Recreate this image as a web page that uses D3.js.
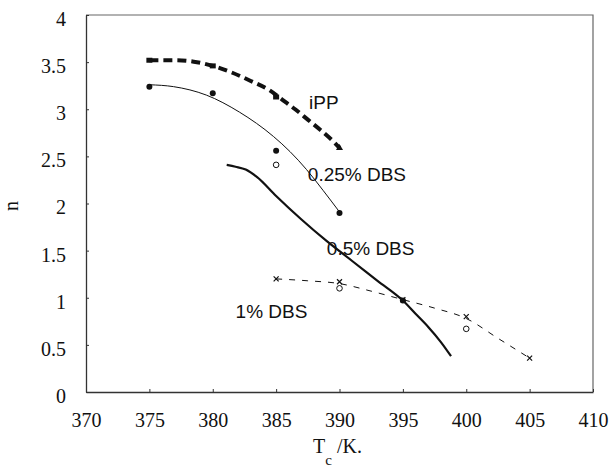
<!DOCTYPE html>
<html>
<head>
<meta charset="utf-8">
<script src="https://cdn.jsdelivr.net/npm/d3@7"></script>
<style>
  html, body { margin: 0; padding: 0; background: #fff; }
  svg { display: block; }
  .tick text, .serif { font-family: 'Liberation Serif', 'Times New Roman', serif !important; }
</style>
</head>
<body>
<svg id="chart" width="611" height="471"></svg>
<script>
// ---- data ----
const xTicks = [370, 375, 380, 385, 390, 395, 400, 405, 410];
const yTicks = [0, 0.5, 1, 1.5, 2, 2.5, 3, 3.5, 4];

// fitted curves [T, n]
const iPPCurve = [[375,3.52],[377,3.52],[378.5,3.505],[380,3.46],[381.5,3.39],[383,3.30],[384.5,3.20],[385.5,3.10],[386.5,3.00],[387.5,2.89],[388.5,2.78],[389.5,2.66],[390,2.59]];
const dbs025Curve = [[375,3.26],[376.9,3.24],[379.5,3.15],[382.1,2.97],[384.8,2.71],[386.1,2.55],[387.4,2.36],[388.7,2.14],[390,1.91]];
const dbs05Curve = [[381.1,2.41],[381.8,2.39],[382.6,2.36],[383.5,2.28],[385,2.08],[387,1.83],[389,1.60],[391,1.39],[393,1.18],[395,0.97],[396,0.83],[397,0.69],[398,0.53],[398.8,0.38]];
const dbs1Curve = [[385,1.2],[387.5,1.18],[390,1.15],[392.5,1.07],[395,0.98],[397.5,0.89],[400,0.78],[402.5,0.57],[405,0.36]];

// measured points [T, n]
const iPPSquares = [[375,3.52],[380,3.46],[385,3.13]];
const iPPTriangle = [[390,2.6]];
const dbs025Filled = [[375,3.24],[380,3.17],[385,2.56],[390,1.9]];
const dbs025Open = [[385,2.41]];
const dbs05Filled = [[395,0.97]];
const dbs1Cross = [[385,1.2],[390,1.17],[395,0.98],[400,0.8],[405,0.36]];
const dbs1Open = [[390,1.1],[400,0.67]];

const seriesLabels = [
  {text: "iPP", T: 387.6, n: 3.0},
  {text: "0.25% DBS", T: 387.5, n: 2.24},
  {text: "0.5% DBS", T: 389.0, n: 1.45},
  {text: "1% DBS", T: 381.8, n: 0.79}
];

// ---- layout ----
const svg = d3.select("#chart");
const mLeft = 86, mRight = 593, mTop = 15, mBottom = 392;
const x = d3.scaleLinear().domain([370, 410]).range([mLeft, mRight]);
const y = d3.scaleLinear().domain([0, 4]).range([mBottom, mTop]);
const serif = "'Liberation Serif', 'Times New Roman', serif";
const sans = "'Liberation Sans', Arial, Helvetica, sans-serif";
const ink = "#111";

// frame (top / right)
svg.append("path")
  .attr("d", `M${mLeft},${mTop}H${mRight}V${mBottom}`)
  .attr("fill", "none").attr("stroke", "#666").attr("stroke-width", 1.2);

// axes
const xAxis = svg.append("g").attr("transform", `translate(0,${mBottom})`)
  .call(d3.axisBottom(x).tickValues(xTicks).tickSizeInner(-3).tickSizeOuter(0).tickPadding(21));
const yAxis = svg.append("g").attr("transform", `translate(${mLeft},0)`)
  .call(d3.axisLeft(y).tickValues(yTicks).tickSizeInner(-3).tickSizeOuter(0).tickPadding(20)
        .tickFormat(d3.format("")));
[xAxis, yAxis].forEach(g => {
  g.attr("font-family", serif).attr("font-size", 20);
  g.select(".domain").attr("stroke", "#333").attr("stroke-width", 1.3);
  g.selectAll(".tick line").attr("stroke", "#333");
  g.selectAll(".tick text").style("font-family", serif).style("font-size", "20px").attr("fill", ink);
});
yAxis.selectAll(".tick text").attr("y", 4);

// axis titles
svg.append("text").attr("class", "serif")
  .attr("transform", `translate(18,206) rotate(-90)`)
  .attr("text-anchor", "middle")
  .attr("font-size", 20).attr("fill", ink)
  .text("n");
const xt = svg.append("text").attr("class", "serif")
  .attr("x", 313).attr("y", 453)
  .attr("font-size", 20).attr("fill", ink);
xt.append("tspan").text("T");
xt.append("tspan").attr("dy", 12).attr("font-size", 15).text("c");
xt.append("tspan").attr("dy", -12).text(" /K.");

// curves
const line = d3.line().x(d => x(d[0])).y(d => y(d[1])).curve(d3.curveMonotoneX);
svg.append("path").datum(iPPCurve).attr("d", line)
  .attr("fill", "none").attr("stroke", ink).attr("stroke-width", 4)
  .attr("stroke-dasharray", "9,5");
svg.append("path").datum(dbs025Curve).attr("d", line)
  .attr("fill", "none").attr("stroke", ink).attr("stroke-width", 1);
svg.append("path").datum(dbs05Curve).attr("d", line)
  .attr("fill", "none").attr("stroke", ink).attr("stroke-width", 2.2);
svg.append("path").datum(dbs1Curve).attr("d", line)
  .attr("fill", "none").attr("stroke", ink).attr("stroke-width", 1)
  .attr("stroke-dasharray", "6,7");

// markers
svg.selectAll(".sq").data(iPPSquares).join("rect")
  .attr("x", d => x(d[0]) - 3).attr("y", d => y(d[1]) - 2.5)
  .attr("width", 6).attr("height", 5).attr("fill", ink);
svg.selectAll(".tri").data(iPPTriangle).join("path")
  .attr("d", d => `M${x(d[0])},${y(d[1]) - 3}l3.5,6h-7z`).attr("fill", ink);
svg.selectAll(".f025").data(dbs025Filled.concat(dbs05Filled)).join("circle")
  .attr("cx", d => x(d[0])).attr("cy", d => y(d[1])).attr("r", 3).attr("fill", ink);
svg.selectAll(".o").data(dbs025Open.concat(dbs1Open)).join("circle")
  .attr("cx", d => x(d[0])).attr("cy", d => y(d[1])).attr("r", 2.8)
  .attr("fill", "#fff").attr("stroke", ink).attr("stroke-width", 1);
svg.selectAll(".x").data(dbs1Cross).join("path")
  .attr("d", d => { const cx = x(d[0]), cy = y(d[1]); return `M${cx-2.5},${cy-2.5}L${cx+2.5},${cy+2.5}M${cx-2.5},${cy+2.5}L${cx+2.5},${cy-2.5}`; })
  .attr("stroke", ink).attr("stroke-width", 1.2);

// series labels
svg.selectAll(".lbl").data(seriesLabels).join("text")
  .attr("x", d => x(d.T)).attr("y", d => y(d.n))
  .attr("font-family", sans).attr("font-size", 19).attr("fill", ink)
  .text(d => d.text);
</script>
</body>
</html>
